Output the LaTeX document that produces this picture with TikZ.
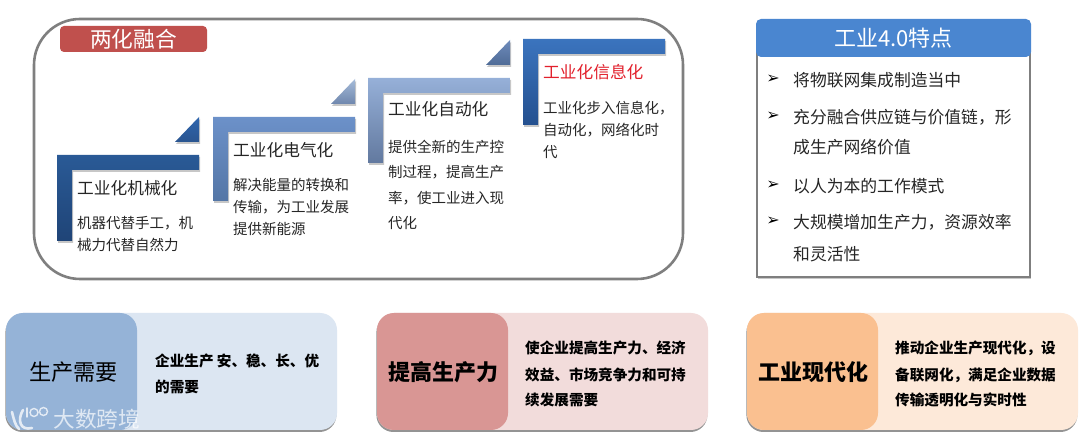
\documentclass[tikz,border=0pt]{standalone}
\usepackage{fontspec}
\setmainfont{Noto Sans CJK SC}
\newfontfamily\dejavu{DejaVu Sans}
\usetikzlibrary{shadows,calc}
\definecolor{txt}{HTML}{262626}
\definecolor{frameC}{HTML}{7F7F7F}
\definecolor{titleC}{HTML}{C0504D}
\definecolor{headC}{HTML}{4A86D0}
\definecolor{redT}{HTML}{E2202C}
\definecolor{aT}{HTML}{2A5A96}\definecolor{aB}{HTML}{1F4477}
\definecolor{aTT}{HTML}{2F66AE}\definecolor{aTB}{HTML}{2A5590}
\definecolor{bT}{HTML}{6C91C9}\definecolor{bB}{HTML}{5476A6}
\definecolor{bTT}{HTML}{A5BBD9}\definecolor{bTB}{HTML}{6F87AD}
\definecolor{cT}{HTML}{96B0D8}\definecolor{cB}{HTML}{62799F}
\definecolor{cTT}{HTML}{6E8BBB}\definecolor{cTB}{HTML}{4F6B96}
\definecolor{dT}{HTML}{3B74BE}\definecolor{dB}{HTML}{24508F}
\definecolor{card1L}{HTML}{95B3D7}\definecolor{card1R}{HTML}{DCE6F2}
\definecolor{card2L}{HTML}{D99694}\definecolor{card2R}{HTML}{F2DCDB}
\definecolor{card3L}{HTML}{FAC090}\definecolor{card3R}{HTML}{FDE9D9}
\tikzset{
 x=1pt,y=-1pt,
 softsh/.style={drop shadow={shadow xshift=1pt,shadow yshift=-2pt,opacity=.22,fill=black}},
 cardsh/.style={drop shadow={shadow xshift=-0.6pt,shadow yshift=-2pt,opacity=.42,fill=black}},
 steptitle/.style={anchor=west,inner sep=0pt,font=\fontsize{16.7}{20}\selectfont,text=txt},
 stepdesc/.style={anchor=north west,inner sep=0pt,align=left,text=txt,font=\fontsize{14.5}{22}\selectfont},
 feat/.style={anchor=west,inner sep=0pt,text=txt,font=\fontsize{16.8}{20}\selectfont},
 bullet/.style={anchor=center,inner sep=0pt,text=black,font=\dejavu\fontsize{16}{16}\selectfont},
 leftlabel/.style={inner sep=0pt,text=black,font=\fontsize{22.2}{26}\selectfont},
 boldlabel/.style={leftlabel,font=\fontsize{22}{26}\selectfont\bfseries},
 rightlabel/.style={anchor=west,inner sep=0pt,text=black,font=\fontsize{14.6}{18}\selectfont\bfseries},
}
\newcommand{\stepbar}[4]{%
 \path[softsh,top color=#4T,bottom color=#4B]
   (#1,#2) -- ++(142,0) -- ++(0,15) -- ++(-127,0) -- (#1+15,#3) -- (#1,#3) -- cycle;
}
\newcommand{\steptri}[3]{%
 \path[softsh,top color=#3TT,bottom color=#3TB]
   (#1+142,#2) -- (#1+142,#2+25) -- (#1+118,#2+25) -- cycle;
}
\newcommand{\cardbg}[2]{%
 \fill[card#2R,rounded corners=17pt,cardsh] (#1,313) rectangle ++(331,117);
 \fill[card#2L,rounded corners=17pt] (#1,313) rectangle ++(131,117);
}
\begin{document}
\begin{tikzpicture}
\useasboundingbox (0,0) rectangle (1080,438);
\fill[white] (0,0) rectangle (1080,438);
% big frame
\draw[frameC,line width=2.6pt,rounded corners=46pt] (34,19) rectangle (683,279);
\node[fill=titleC,rounded corners=4pt,minimum width=147pt,minimum height=26pt,inner sep=0pt,text=white,font=\fontsize{21.7}{24}\selectfont] (title) at (133.5,39) {两化融合};
% steps
\stepbar{57}{155}{241}{a}\steptri{57}{117}{a}
\stepbar{213}{117}{201}{b}\steptri{213}{79}{b}
\stepbar{368}{78}{163}{c}\steptri{368}{40}{c}
\stepbar{523}{39}{125}{d}
\node[steptitle] (t1) at (77,188.5) {工业化机械化};
\node[stepdesc] (d1) at (77,216.5) {机器代替手工，机\\械力代替自然力};
\node[steptitle] (t2) at (233,150) {工业化电气化};
\node[stepdesc] (d2) at (233,178.5) {解决能量的转换和\\传输，为工业发展\\提供新能源};
\node[steptitle] (t3) at (388,109.5) {工业化自动化};
\node[stepdesc,font=\fontsize{14.5}{25.5}\selectfont] (d3) at (388,139.5) {提供全新的生产控\\制过程，提高生产\\率，使工业进入现\\代化};
\node[steptitle,text=redT] (t4) at (543,72.5) {工业化信息化};
\node[stepdesc] (d4) at (543,100.5) {工业化步入信息化，\\自动化，网络化时\\代};
% right panel
\draw[frameC,line width=1.8pt,fill=white,softsh] (757,40) rectangle (1030,277);
\node[fill=headC,rounded corners=5pt,minimum width=275pt,minimum height=38pt,inner sep=0pt,text=white,font=\fontsize{22}{24}\selectfont] (head) at (893.5,38) {工业4.0特点};
\foreach \n/\yy in {1/79.5,2/116.5,3/185.5,4/221.5}
  \node[bullet] (m\n) at (773,\yy) {➢};
\node[feat] (f1) at (793,80.5) {将物联网集成制造当中};
\node[feat] (f2) at (793,117.5) {充分融合供应链与价值链，形};
\node[feat] (f2b) at (793,147.5) {成生产网络价值};
\node[feat] (f3) at (793,186.5) {以人为本的工作模式};
\node[feat] (f4) at (793,222.5) {大规模增加生产力，资源效率};
\node[feat] (f4b) at (793,254.5) {和灵活性};
% bottom cards
\cardbg{6}{1}
\cardbg{377}{2}
\cardbg{747}{3}
\node[leftlabel] (l1) at (73.5,372) {生产需要};
\node[boldlabel] (l2) at (443,372) {提高生产力};
\node[boldlabel] (l3) at (813,372) {工业现代化};
\node[rightlabel] (r1a) at (155,361) {企业生产 安、稳、长、优};
\node[rightlabel] (r1b) at (155,387) {的需要};
\node[rightlabel] (r2a) at (525,348) {使企业提高生产力、经济};
\node[rightlabel] (r2b) at (525,375) {效益、市场竞争力和可持};
\node[rightlabel] (r2c) at (525,400) {续发展需要};
\node[rightlabel] (r3a) at (895,348) {推动企业生产现代化，设};
\node[rightlabel] (r3b) at (895,375) {备联网化，满足企业数据};
\node[rightlabel] (r3c) at (895,400) {传输透明化与实时性};
% watermark
\node[inner sep=0pt,text=white,text opacity=.7,font=\fontsize{21.7}{24}\selectfont] (wm) at (97,419) {大数跨境};
\begin{scope}[white,opacity=.75,line width=2.6pt,line cap=round]
 \draw (12,412) .. controls (14,420) and (15,425) .. (19,429);
 \draw (23,410) .. controls (17,420) and (20,431) .. (32,428);
 \draw[line width=1.4pt] (34,412.5) circle (4pt);
 \draw[line width=1.4pt] (43.5,411.5) circle (4pt);
 \draw[line width=1.4pt] (27,408) -- (27,417);
\end{scope}
\end{tikzpicture}
\end{document}
